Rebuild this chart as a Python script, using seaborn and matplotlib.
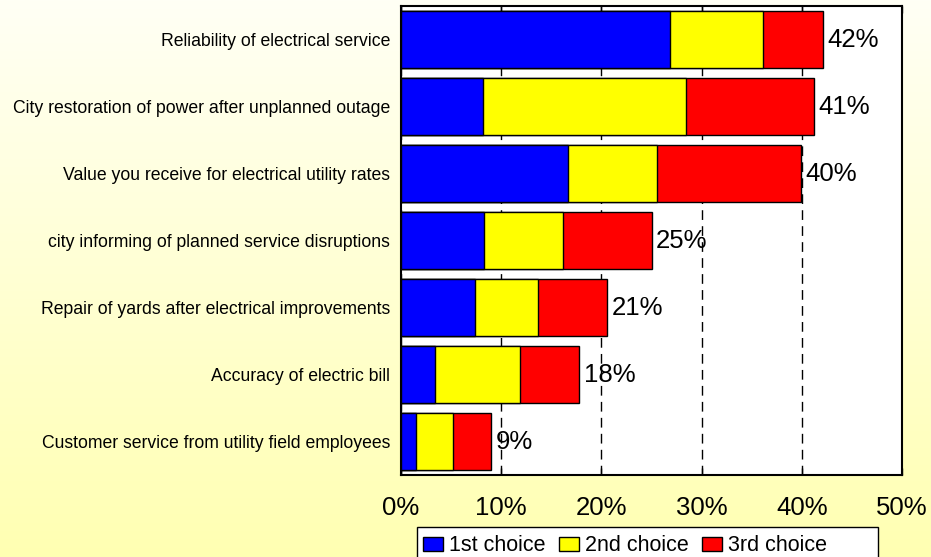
import numpy as np
import pandas as pd
import matplotlib
matplotlib.use("Agg")
import matplotlib.pyplot as plt
import seaborn as sns
from matplotlib.ticker import FuncFormatter
from matplotlib.patches import Rectangle

# Values (percent of respondents)
categories = [
    "Reliability of electrical service",
    "City restoration of power after unplanned outage",
    "Value you receive for electrical utility rates",
    "city informing of planned service disruptions",
    "Repair of yards after electrical improvements",
    "Accuracy of electric bill",
    "Customer service from utility field employees",
]
first_choice = [26.8, 8.2, 16.7, 8.3, 7.4, 3.4, 1.5]
second_choice = [9.3, 20.2, 8.8, 7.9, 6.3, 8.5, 3.7]
third_choice = [6.0, 12.8, 14.4, 8.8, 6.9, 5.9, 3.8]
series_names = ["1st choice", "2nd choice", "3rd choice"]
series_colors = ["#0000FF", "#FFFF00", "#FF0000"]

df = pd.DataFrame({
    "category": categories,
    "first": first_choice,
    "second": second_choice,
    "third": third_choice,
})
df["cum2"] = df["first"] + df["second"]
df["total"] = df["cum2"] + df["third"]

sns.set_style("ticks")
plt.rcParams["font.family"] = ["Liberation Sans", "DejaVu Sans"]
plt.rcParams["text.color"] = "black"
plt.rcParams["xtick.color"] = "black"
plt.rcParams["ytick.color"] = "black"

fig = plt.figure(figsize=(9.31, 5.57), dpi=100)

# pale yellow gradient background
bg = fig.add_axes([0, 0, 1, 1], zorder=-10)
top = np.array([255, 255, 245]) / 255
bottom = np.array([255, 255, 178]) / 255
t = np.linspace(0, 1, 256)[:, None]
grad = top * (1 - t) + bottom * t
bg.imshow(grad[:, None, :], aspect="auto", extent=[0, 1, 0, 1])
bg.axis("off")

ax = fig.add_axes([401 / 931, 1 - 475 / 557, 501 / 931, 469 / 557])
ax.set_facecolor("white")

# stacked bars: draw cumulative totals back to front
sns.barplot(data=df, x="total", y="category", color=series_colors[2], saturation=1,
            width=0.85, edgecolor="black", linewidth=1, label=series_names[2],
            ax=ax, zorder=3)
sns.barplot(data=df, x="cum2", y="category", color=series_colors[1], saturation=1,
            width=0.85, edgecolor="black", linewidth=1, label=series_names[1],
            ax=ax, zorder=3)
sns.barplot(data=df, x="first", y="category", color=series_colors[0], saturation=1,
            width=0.85, edgecolor="black", linewidth=1, label=series_names[0],
            ax=ax, zorder=3)

totals_lbl = [f"{v:.0f}%" for v in df["total"]]
ax.bar_label(ax.containers[0], labels=totals_lbl, padding=3, fontsize=18.5, color="black")

ax.set_xlim(0, 50)
ax.set_xticks([0, 10, 20, 30, 40, 50])
ax.xaxis.set_major_formatter(FuncFormatter(lambda v, _: f"{v:.0f}%"))
ax.set_xlabel("")
ax.set_ylabel("")
ax.tick_params(axis="x", direction="in", top=True, length=5, width=1,
               labelsize=18.5, pad=15, color="black")
ax.tick_params(axis="y", length=0, labelsize=12.7, pad=8)
ax.xaxis.grid(True, linestyle=(0, (7, 4.5)), color="black", linewidth=1)
ax.set_axisbelow(True)
for s in ax.spines.values():
    s.set_visible(True)
    s.set_linewidth(1.5)
    s.set_color("black")

handles, labels = ax.get_legend_handles_labels()
if ax.get_legend() is not None:
    ax.get_legend().remove()
order = [labels.index(n) for n in series_names]

# legend frame is wider than its entries and runs off the bottom edge
fig.patches.append(Rectangle((417 / 931, -0.05), (878 - 417) / 931, 0.05 + 1 - 527 / 557,
                             transform=fig.transFigure, facecolor="white",
                             edgecolor="black", linewidth=1, zorder=1))
leg = fig.legend([handles[i] for i in order], series_names, ncol=3,
                 loc="upper left", bbox_to_anchor=(419 / 931, 1 - 531 / 557),
                 fontsize=15.5, frameon=False, handlelength=0.93, handleheight=0.65,
                 handletextpad=0.25, columnspacing=0.65, borderpad=0.2,
                 borderaxespad=0)
leg.set_zorder(2)

fig.savefig("out.png", dpi=100)
